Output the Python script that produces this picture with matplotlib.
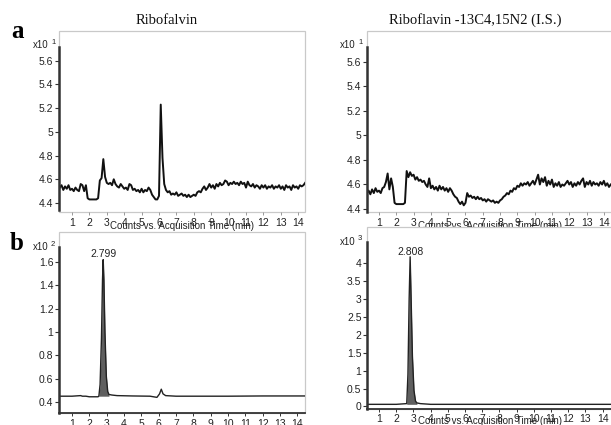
import numpy as np
import matplotlib
matplotlib.use("Agg")
import matplotlib.pyplot as plt
from matplotlib.patches import Rectangle

plt.rcParams['font.family'] = ['Liberation Sans', 'DejaVu Sans']

# ---- data ----
# panel a, EIC traces sampled every 0.1 min from 0.3 min (x10^1 counts)
a_start, a_step = 0.3, 0.1
ribo_a = [
    4.53, 4.55, 4.51, 4.54, 4.52, 4.55, 4.51, 4.52, 4.50, 4.53,   # 0.3 - 1.2
    4.51, 4.50, 4.56, 4.55, 4.50, 4.55, 4.44, 4.43, 4.43, 4.43,   # 1.3 - 2.2
    4.43, 4.43, 4.44, 4.59, 4.61, 4.77, 4.62, 4.57, 4.56, 4.57,   # 2.3 - 3.2
    4.55, 4.60, 4.56, 4.54, 4.53, 4.56, 4.54, 4.52, 4.53, 4.51,   # 3.3 - 4.2
    4.56, 4.55, 4.51, 4.52, 4.50, 4.51, 4.49, 4.52, 4.49, 4.51,   # 4.3 - 5.2
    4.50, 4.53, 4.51, 4.47, 4.45, 4.43, 4.43, 4.46, 5.23, 4.78,   # 5.3 - 6.2
    4.56, 4.51, 4.49, 4.50, 4.47, 4.48, 4.47, 4.49, 4.46, 4.47,   # 6.3 - 7.2
    4.48, 4.46, 4.47, 4.45, 4.47, 4.45, 4.46, 4.47, 4.46, 4.49,   # 7.3 - 8.2
    4.50, 4.49, 4.52, 4.54, 4.51, 4.53, 4.56, 4.53, 4.55, 4.52,   # 8.3 - 9.2
    4.56, 4.54, 4.57, 4.55, 4.56, 4.59, 4.58, 4.55, 4.57, 4.56,   # 9.3 - 10.2
    4.58, 4.56, 4.57, 4.55, 4.58, 4.56, 4.57, 4.53, 4.58, 4.55,   # 10.3 - 11.2
    4.54, 4.56, 4.53, 4.55, 4.54, 4.52, 4.55, 4.53, 4.55, 4.52,   # 11.3 - 12.2
    4.54, 4.53, 4.55, 4.52, 4.54, 4.53, 4.55, 4.52, 4.54, 4.51,   # 12.3 - 13.2
    4.55, 4.53, 4.54, 4.51, 4.55, 4.53, 4.54, 4.52, 4.55, 4.54,   # 13.3 - 14.2
    4.55, 4.57,                                                   # 14.3 - 14.4
]
is_a = [
    4.53, 4.55, 4.52, 4.56, 4.53, 4.57, 4.54, 4.55, 4.53, 4.57,   # 0.3 - 1.2
    4.58, 4.62, 4.69, 4.56, 4.65, 4.58, 4.45, 4.44, 4.44, 4.44,   # 1.3 - 2.2
    4.44, 4.44, 4.45, 4.71, 4.66, 4.70, 4.67, 4.68, 4.64, 4.66,   # 2.3 - 3.2
    4.63, 4.64, 4.62, 4.63, 4.60, 4.58, 4.65, 4.57, 4.59, 4.56,   # 3.3 - 4.2
    4.58, 4.55, 4.59, 4.56, 4.58, 4.55, 4.57, 4.54, 4.57, 4.55,   # 4.3 - 5.2
    4.52, 4.50, 4.49, 4.46, 4.44, 4.46, 4.43, 4.45, 4.53, 4.50,   # 5.3 - 6.2
    4.51, 4.49, 4.50, 4.48, 4.50, 4.48, 4.49, 4.47, 4.48, 4.46,   # 6.3 - 7.2
    4.48, 4.47, 4.46, 4.47, 4.45, 4.46, 4.45, 4.47, 4.48, 4.50,   # 7.3 - 8.2
    4.51, 4.53, 4.52, 4.55, 4.54, 4.57, 4.56, 4.59, 4.58, 4.61,   # 8.3 - 9.2
    4.59, 4.61, 4.60, 4.62, 4.59, 4.61, 4.63, 4.60, 4.64, 4.68,   # 9.3 - 10.2
    4.60, 4.65, 4.62, 4.66, 4.59, 4.63, 4.60, 4.64, 4.58, 4.61,   # 10.3 - 11.2
    4.59, 4.62, 4.58, 4.60, 4.59, 4.61, 4.63, 4.60, 4.62, 4.58,   # 11.3 - 12.2
    4.61, 4.59, 4.62, 4.60, 4.63, 4.65, 4.58, 4.62, 4.60, 4.63,   # 12.3 - 13.2
    4.59, 4.62, 4.60, 4.61, 4.59, 4.62, 4.60, 4.63, 4.59, 4.61,   # 13.3 - 14.2
    4.58, 4.60,                                                   # 14.3 - 14.4
]

# panel b, MRM traces (ribo x10^2, I.S. x10^3)
ribo_b_t = [0.3, 1.0, 1.5, 1.6, 1.8, 2.0, 2.5, 2.55, 2.62, 2.7, 2.76, 2.799, 2.84,
            2.9, 2.98, 3.06, 3.13, 3.3, 3.6, 4.5, 5.5, 5.9, 6.05, 6.15, 6.25, 6.4,
            7.0, 8.0, 10.0, 12.0, 14.44]
ribo_b = [0.45, 0.45, 0.455, 0.45, 0.45, 0.445, 0.445, 0.45, 0.55, 0.95, 1.45, 1.62, 1.45,
          1.0, 0.62, 0.49, 0.465, 0.46, 0.455, 0.452, 0.45, 0.44, 0.47, 0.51, 0.47, 0.455,
          0.45, 0.45, 0.45, 0.452, 0.452]
ribo_rt, ribo_base, ribo_win = 2.799, 0.45, (2.55, 3.13)

is_b_t = [0.3, 1.0, 2.0, 2.61, 2.68, 2.75, 2.808, 2.86, 2.94, 3.03, 3.12, 3.2, 3.4,
          3.7, 4.0, 6.0, 10.0, 14.6]
is_b = [0.06, 0.06, 0.06, 0.08, 0.9, 3.0, 4.17, 3.1, 1.4, 0.45, 0.15, 0.1, 0.08,
        0.07, 0.06, 0.06, 0.06, 0.06]
is_rt, is_base, is_win = 2.808, 0.06, (2.61, 3.2)

x_ticks = list(range(1, 15))
a_yticks = [4.4, 4.6, 4.8, 5.0, 5.2, 5.4, 5.6]
a_ylabels = ['4.4', '4.6', '4.8', '5', '5.2', '5.4', '5.6']
rb_yticks = [0.4, 0.6, 0.8, 1.0, 1.2, 1.4, 1.6]
rb_ylabels = ['0.4', '0.6', '0.8', '1', '1.2', '1.4', '1.6']
ib_yticks = [0, 0.5, 1, 1.5, 2, 2.5, 3, 3.5, 4]
ib_ylabels = ['0', '0.5', '1', '1.5', '2', '2.5', '3', '3.5', '4']

titles = ['Ribofalvin', 'Riboflavin -13C4,15N2 (I.S.)']
xlab = 'Counts vs. Acquisition Time (min)'

# ---- layout (pixel based) ----
W, H = 611, 425
fig = plt.figure(figsize=(W / 100, H / 100), dpi=100)


def px(x, y):
    return x / W, 1 - y / H


def add_ax(l, r, t, b):
    return fig.add_axes([l / W, 1 - b / H, (r - l) / W, (b - t) / H])


def style(ax, xlim, ylim, yt, yl, spine_lo, spine_hi, dark_bottom):
    ax.set_xlim(*xlim)
    ax.set_ylim(*ylim)
    ax.set_xticks(x_ticks)
    ax.set_yticks(yt)
    ax.set_yticklabels(yl)
    for s in ax.spines.values():
        s.set_visible(False)
    ax.add_patch(Rectangle((0, 0), 1, 1, transform=ax.transAxes, fill=False,
                           edgecolor='#c9c9c9', lw=0.9, clip_on=False, zorder=0))
    ax.spines['left'].set_visible(True)
    ax.spines['left'].set_color('#333333')
    ax.spines['left'].set_linewidth(1.8)
    ax.spines['left'].set_bounds(spine_lo, spine_hi)
    if dark_bottom:
        ax.spines['bottom'].set_visible(True)
        ax.spines['bottom'].set_color('#333333')
        ax.spines['bottom'].set_linewidth(1.3)
    ax.tick_params(axis='y', direction='out', length=3, width=0.8, color='#333333',
                   labelsize=7.5, labelcolor='#222222', pad=1)
    ax.tick_params(axis='x', direction='out', length=2.5, width=0.7,
                   color='#333333' if dark_bottom else '#999999',
                   labelsize=7.5, labelcolor='#222222', pad=2)


# a - left
ax1 = add_ax(59, 305, 31, 212)
t1 = a_start + a_step * np.arange(len(ribo_a))
ax1.plot(t1, ribo_a, color='#111111', lw=1.4)
style(ax1, (0.253, 14.39), (4.324, 5.851), a_yticks, a_ylabels, 4.34, 5.716, False)
ax1.set_xlabel(xlab, fontsize=7, color='#222222')
ax1.xaxis.set_label_coords(0.5, -0.078)
ax1.xaxis.label.set_va('center')

# a - right
ax2 = add_ax(367, 613, 31, 212)
t2 = a_start + a_step * np.arange(len(is_a))
ax2.plot(t2, is_a, color='#111111', lw=1.4)
style(ax2, (0.306, 14.53), (4.3755, 5.853), a_yticks, a_ylabels, 4.3755, 5.72, False)
ax2.set_xlabel(xlab, fontsize=7, color='#222222')
ax2.xaxis.set_label_coords(0.5, -0.078)
ax2.xaxis.label.set_va('center')

# b - left
ax3 = add_ax(59, 305, 232, 413)
rt = np.array(ribo_b_t)
rv = np.array(ribo_b)
ax3.fill_between(rt, rv, ribo_base, where=(rt >= ribo_win[0]) & (rt <= ribo_win[1]),
                 color='#5f5f5f', lw=0)
ax3.plot(rt, rv, color='#222222', lw=1.0)
style(ax3, (0.25, 14.44), (0.306, 1.857), rb_yticks, rb_ylabels, 0.306, 1.728, True)
ax3.text(ribo_rt, 1.67, '2.799', ha='center', va='center', fontsize=7.5, color='#222222')

# b - right
ax4 = add_ax(367, 613, 227, 409)
it = np.array(is_b_t)
iv = np.array(is_b)
ax4.fill_between(it, iv, is_base, where=(it >= is_win[0]) & (it <= is_win[1]),
                 color='#5f5f5f', lw=0)
ax4.plot(it, iv, color='#222222', lw=1.0)
style(ax4, (0.30, 14.6), (-0.07, 5.0), ib_yticks, ib_ylabels, -0.07, 4.58, True)
ax4.tick_params(axis='x', pad=1)
ax4.text(is_rt, 4.3, '2.808', ha='center', va='center', fontsize=7.5, color='#222222')
ax4.set_xlabel(xlab, fontsize=7, color='#222222')
ax4.xaxis.set_label_coords(0.5, -0.068)
ax4.xaxis.label.set_va('center')

# multiplier labels
for (x, y, e) in [(33, 45, '1'), (340, 45, '1'), (33, 247, '2'), (340, 242, '3')]:
    fig.text(*px(x, y), 'x10', ha='left', va='center', fontsize=7, color='#222222')
    fig.text(*px(x + 18, y - 3), e, ha='left', va='center', fontsize=5.5, color='#222222')

# titles and panel letters
fig.text(*px(167, 20), titles[0], ha='center', va='center', fontsize=10.5,
         family='Liberation Serif', color='#111111')
fig.text(*px(475, 20), titles[1], ha='center', va='center', fontsize=10.5,
         family='Liberation Serif', color='#111111')
fig.text(*px(17, 31), 'a', ha='center', va='center', fontsize=18, fontweight='bold',
         family='Liberation Serif')
fig.text(*px(17, 243), 'b', ha='center', va='center', fontsize=18, fontweight='bold',
         family='Liberation Serif')

fig.savefig('out.png', dpi=100)
